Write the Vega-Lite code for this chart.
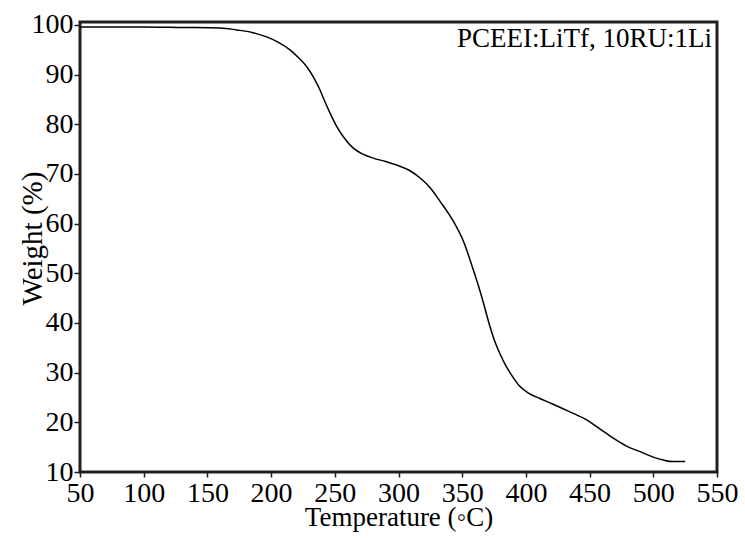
{
  "$schema": "https://vega.github.io/schema/vega-lite/v6.json",
  "width": 637,
  "height": 450,
  "autosize": {"type": "none"},
  "padding": {"left": 80, "top": 22, "right": 28, "bottom": 67},
  "background": "white",
  "config": {
    "view": {"stroke": "#231f20", "strokeWidth": 3},
    "font": "Liberation Serif"
  },
  "datasets": {
    "tga": [
      {"t": 50, "w": 99.6}, {"t": 80, "w": 99.6}, {"t": 100, "w": 99.6},
      {"t": 130, "w": 99.5}, {"t": 160, "w": 99.4}, {"t": 173, "w": 99.0},
      {"t": 185, "w": 98.5}, {"t": 196.5, "w": 97.6}, {"t": 205, "w": 96.6},
      {"t": 214.8, "w": 95.0}, {"t": 222, "w": 93.3}, {"t": 228, "w": 91.6},
      {"t": 233, "w": 89.6}, {"t": 238.4, "w": 86.9}, {"t": 242, "w": 84.7},
      {"t": 246.2, "w": 82.3}, {"t": 251, "w": 79.8}, {"t": 256.7, "w": 77.5},
      {"t": 264.5, "w": 75.2}, {"t": 272, "w": 74.0}, {"t": 280.2, "w": 73.2},
      {"t": 290, "w": 72.5}, {"t": 298.6, "w": 71.8}, {"t": 308, "w": 70.8},
      {"t": 317, "w": 69.2}, {"t": 325, "w": 67.2}, {"t": 332.6, "w": 64.5},
      {"t": 343, "w": 60.5}, {"t": 350.9, "w": 56.5}, {"t": 358.7, "w": 50.7},
      {"t": 365.3, "w": 45.3}, {"t": 371.8, "w": 39.3}, {"t": 376, "w": 36.0},
      {"t": 380, "w": 33.6}, {"t": 384, "w": 31.5}, {"t": 388, "w": 29.8},
      {"t": 395, "w": 27.3}, {"t": 402, "w": 25.9}, {"t": 411, "w": 24.8},
      {"t": 420, "w": 23.8}, {"t": 434.6, "w": 22.1}, {"t": 447.7, "w": 20.5},
      {"t": 458, "w": 18.7}, {"t": 468.6, "w": 16.8}, {"t": 479, "w": 15.2},
      {"t": 489.6, "w": 14.1}, {"t": 500, "w": 13.0}, {"t": 508, "w": 12.4},
      {"t": 515, "w": 12.1}, {"t": 525, "w": 12.1}
    ],
    "note": [{"t": 546, "w": 97.1, "label": "PCEEI:LiTf, 10RU:1Li"}]
  },
  "layer": [
    {
      "data": {"name": "tga"},
      "mark": {"type": "line", "color": "black", "strokeWidth": 1.5, "interpolate": "monotone"},
      "encoding": {
        "x": {
          "field": "t", "type": "quantitative",
          "scale": {"domain": [50, 550], "nice": false, "zero": false},
          "axis": {
            "orient": "bottom",
            "values": [50, 75, 100, 125, 150, 175, 200, 225, 250, 275, 300, 325, 350, 375, 400, 425, 450, 475, 500, 525, 550],
            "labelExpr": "datum.value % 50 === 0 ? datum.label : ''",
            "title": "Temperature (◦C)",
            "domain": false, "grid": false,
            "tickColor": {"condition": {"test": "datum.value % 50 !== 0", "value": "#c8c8c8"}, "value": "#231f20"},
            "tickSize": {"condition": {"test": "datum.value % 50 !== 0", "value": 4}, "value": 5},
            "tickWidth": 1.5,
            "labelPadding": 2, "labelFontSize": 28, "labelColor": "black",
            "labelFont": "Liberation Serif", "labelFlush": false, "labelOverlap": false,
            "titleFont": "Liberation Serif", "titleFontSize": 27,
            "titleFontWeight": "normal", "titleColor": "black",
            "titleBaseline": "alphabetic", "titleY": 53
          }
        },
        "y": {
          "field": "w", "type": "quantitative",
          "scale": {"domain": [10, 100.6], "nice": false, "zero": false},
          "axis": {
            "orient": "left",
            "values": [10, 15, 20, 25, 30, 35, 40, 45, 50, 55, 60, 65, 70, 75, 80, 85, 90, 95, 100],
            "labelExpr": "datum.value % 10 === 0 ? datum.label : ''",
            "title": "Weight (%)",
            "domain": false, "grid": false,
            "tickColor": {"condition": {"test": "datum.value % 10 !== 0", "value": "#c8c8c8"}, "value": "#231f20"},
            "tickSize": {"condition": {"test": "datum.value % 10 !== 0", "value": 4}, "value": 6},
            "tickWidth": 1.5,
            "labelPadding": 1, "labelFontSize": 28, "labelColor": "black",
            "labelFont": "Liberation Serif", "labelFlush": false, "labelOverlap": false,
            "titleFont": "Liberation Serif", "titleFontSize": 29,
            "titleFontWeight": "normal", "titleColor": "black",
            "titleAngle": 270, "titleBaseline": "alphabetic",
            "titleX": -39, "titleY": 216, "titleAlign": "center"
          }
        }
      }
    },
    {
      "data": {"name": "note"},
      "mark": {"type": "text", "align": "right", "baseline": "middle", "fontSize": 27, "font": "Liberation Serif", "color": "black"},
      "encoding": {
        "x": {"field": "t", "type": "quantitative"},
        "y": {"field": "w", "type": "quantitative"},
        "text": {"field": "label"}
      }
    }
  ]
}
